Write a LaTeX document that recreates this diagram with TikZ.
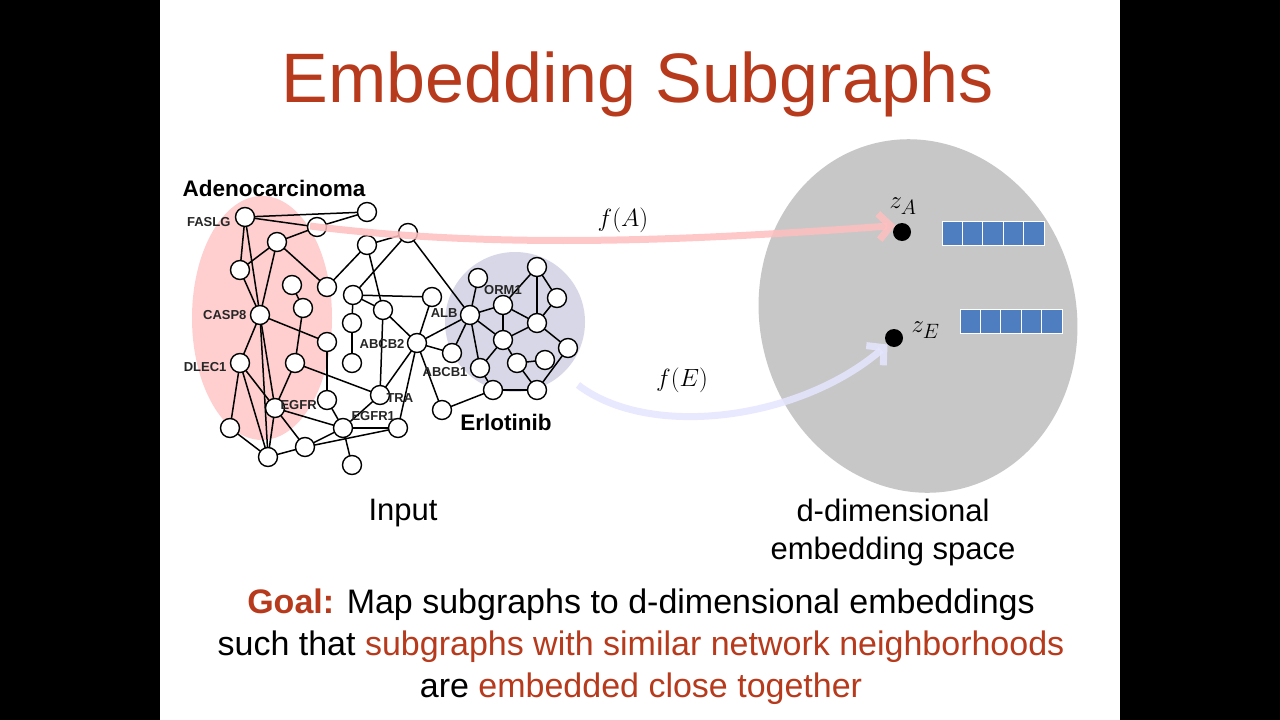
\documentclass[tikz,border=0pt]{standalone}
\usepackage{fontspec}
\setmainfont{Liberation Sans}
\usetikzlibrary{arrows.meta}
\definecolor{tred}{HTML}{B73A1C}
\definecolor{vblue}{HTML}{4F7EC0}
\begin{document}
\begin{tikzpicture}[x=1pt,y=-1pt,
  gn/.style={circle,draw,line width=1.4pt,fill=white,minimum size=19pt,inner sep=0pt},
  gl/.style={font=\bfseries\fontsize{13}{13}\selectfont,text=black!85},
  ge/.style={line width=1.5pt},
  cell/.style={draw=white,line width=1pt,fill=vblue,minimum width=20.4pt,minimum height=24pt,inner sep=0pt},
  body/.style={font=\fontsize{31}{38}\selectfont}]
\fill[black] (0,0) rectangle (1280,720);
\fill[white] (160,0) rectangle (1120,720);
\useasboundingbox (0,0) rectangle (1280,720);
\node[text=tred,font=\fontsize{70}{70}\selectfont] (title) at (638,84) {Embedding Subgraphs};
% background blobs
\fill[red!55!white,opacity=0.35] (262,318) ellipse [x radius=70,y radius=122];
\fill[blue!25!gray!35,opacity=0.7] (515,322) circle (70);
\fill[black!22,rotate around={15:(918,316)}] (918,316) ellipse [x radius=158,y radius=178];
% graph nodes
\foreach \n/\x/\y in {1/245/217,2/367/212,3/317/227,4/408/233,5/277/242,6/367/245,7/240/270,8/292/285,9/327/287,10/353/295,11/432/297,12/260/315,13/303/308,14/383/310,15/352/323,16/470/315,17/478/278,18/537/267,19/503/305,20/557/298,21/537/323,22/327/342,23/417/343,24/503/340,25/568/348,26/240/363,27/295/363,28/352/363,29/452/353,30/480/368,31/517/363,32/545/360,33/380/395,34/275/408,35/327/400,36/442/410,37/493/390,38/537/390,39/230/428,40/343/428,41/398/428,42/305/447,43/268/457,44/352/465}
  \coordinate (c\n) at (\x,\y);
\foreach \a/\b in {1/2,1/3,3/2,1/7,1/12,5/3,5/7,5/9,5/12,7/12,6/4,6/9,6/14,4/10,4/16,10/11,10/15,15/28,11/23,14/23,14/10,12/26,12/22,12/34,12/43,8/13,13/27,27/34,27/33,22/35,26/39,26/34,26/43,34/43,34/40,34/42,35/40,40/42,40/41,40/44,41/23,33/23,33/14,33/40,42/41,43/42,39/43,23/29,23/36,23/16,16/17,16/19,16/24,16/30,16/29,19/18,18/20,18/21,20/21,19/24,19/21,21/25,24/31,24/30,31/38,25/38,36/37,37/38,30/37,32/31,21/24}
  \draw[ge] (c\a) -- (c\b);
\foreach \n in {1,...,44} \node[gn] (n\n) at (c\n) {};
\node[gl,left] (l1) at (234,222) {FASLG};
\node[gl,left] (l12) at (250,315) {CASP8};
\node[gl,left] (l26) at (230,367) {DLEC1};
\node[gl,right] (l34) at (277,405) {EGFR};
\node[gl,right] (l40) at (348,416) {EGFR1};
\node[gl,right] (l33) at (383,398) {TRA};
\node[gl,left] (l23) at (408,344) {ABCB2};
\node[gl,left] (l30) at (471,372) {ABCB1};
\node[gl,left] (l16) at (461,313) {ALB};
\node[gl] (l19) at (503,290) {ORM1};
\node[font=\bfseries\fontsize{22.5}{22.5}\selectfont] (adeno) at (274,188) {Adenocarcinoma};
\node[font=\bfseries\fontsize{22.5}{22.5}\selectfont] (erlo) at (506,422) {Erlotinib};
% arrows
\coordinate (sA) at (310,226);
\coordinate (sE) at (578,385);
\node[circle,fill=black,minimum size=18pt,inner sep=0pt] (zA) at (902,232) {};
\node[circle,fill=black,minimum size=18pt,inner sep=0pt] (zE) at (894,338) {};
\draw[red!25!white,line width=7pt,-{Straight Barb[length=12pt,width=26pt]},opacity=0.85] (sA) .. controls (500,250) and (700,240) .. (zA.north west);
\draw[blue!10!white,line width=7pt,-{Straight Barb[length=12pt,width=26pt]},opacity=0.85] (sE) .. controls (650,440) and (800,420) .. (zE.south west);
\node[font=\fontsize{34}{34}\selectfont] (fA) at (623,220) {$f(A)$};
\node[font=\fontsize{34}{34}\selectfont] (fE) at (682,380) {$f(E)$};
\node[font=\fontsize{32}{32}\selectfont,anchor=west] (lzA) at (886,206) {$z_A$};
\node[font=\fontsize{32}{32}\selectfont,anchor=west] (lzE) at (908,330) {$z_E$};
\foreach \i in {0,...,4} {
  \node[cell] at (952.2+20.4*\i,233) {};
  \node[cell] at (970.2+20.4*\i,321) {};
}
\node[body] (inp) at (403,513) {Input};
\node[body,align=center] (space) at (893,532) {d-dimensional\\embedding space};
\node[align=center,font=\fontsize{34}{42}\selectfont] (goal) at (641,647) {\textcolor{tred}{\textbf{Goal:}} Map subgraphs to d-dimensional embeddings\\such that \textcolor{tred}{subgraphs with similar network neighborhoods}\\are \textcolor{tred}{embedded close together}};
\end{tikzpicture}
\end{document}
